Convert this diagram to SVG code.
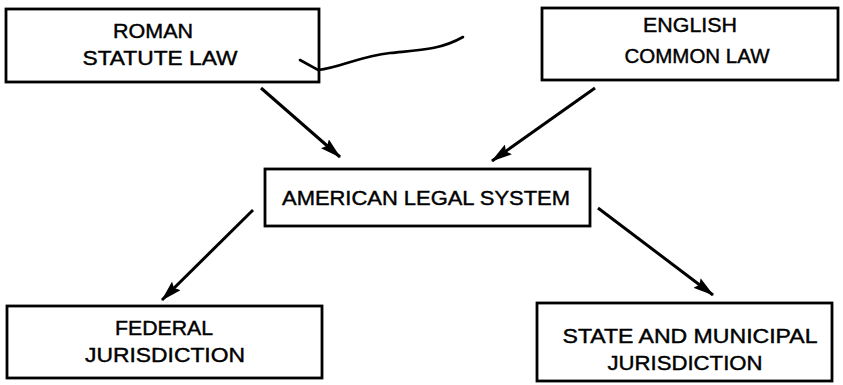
<svg xmlns="http://www.w3.org/2000/svg" width="843" height="385" viewBox="0 0 843 385">
<defs>
<style>
.box{fill:#fff;stroke:#000;stroke-width:2.8}
.t{font-family:"Liberation Sans",Arial,sans-serif;font-size:19.5px;fill:#000;stroke:#000;stroke-width:0.4;text-anchor:middle}
.conn{stroke:#000;stroke-width:3;fill:none}
.mark{stroke:#000;stroke-width:2.6;fill:none;stroke-linecap:round}
</style>
<marker id="ah" viewBox="0 0 21 12" refX="20" refY="6" markerWidth="21" markerHeight="12" markerUnits="userSpaceOnUse" orient="auto">
<path d="M0,0 L21,6 L0,12 L3,6 Z" fill="#000"/>
</marker>
</defs>
<rect width="843" height="385" fill="#fff"/>
<g id="roman">
<rect class="box" x="6" y="9" width="313" height="73"/>
<text class="t" x="153" y="38" textLength="80" lengthAdjust="spacingAndGlyphs">ROMAN</text>
<text class="t" x="160" y="65" textLength="155" lengthAdjust="spacingAndGlyphs">STATUTE LAW</text>
</g>
<g id="english">
<rect class="box" x="542" y="8" width="296" height="72"/>
<text class="t" x="690" y="32" textLength="94" lengthAdjust="spacingAndGlyphs">ENGLISH</text>
<text class="t" x="697" y="63" textLength="145" lengthAdjust="spacingAndGlyphs">COMMON LAW</text>
</g>
<g id="american">
<rect class="box" x="265" y="169" width="325" height="57"/>
<text class="t" x="426" y="205" textLength="288" lengthAdjust="spacingAndGlyphs">AMERICAN LEGAL SYSTEM</text>
</g>
<g id="federal">
<rect class="box" x="7" y="306" width="315" height="72"/>
<text class="t" x="164" y="335" textLength="98" lengthAdjust="spacingAndGlyphs">FEDERAL</text>
<text class="t" x="165" y="362" textLength="160" lengthAdjust="spacingAndGlyphs">JURISDICTION</text>
</g>
<g id="state">
<rect class="box" x="537" y="303" width="295" height="78"/>
<text class="t" x="690" y="343" textLength="255" lengthAdjust="spacingAndGlyphs">STATE AND MUNICIPAL</text>
<text class="t" x="685" y="370" textLength="155" lengthAdjust="spacingAndGlyphs">JURISDICTION</text>
</g>
<g id="connectors">
<line class="conn" x1="261" y1="88" x2="340" y2="157" marker-end="url(#ah)"/>
<line class="conn" x1="595" y1="88" x2="492" y2="161" marker-end="url(#ah)"/>
<line class="conn" x1="253" y1="210" x2="162" y2="300" marker-end="url(#ah)"/>
<line class="conn" x1="598" y1="208" x2="713" y2="295" marker-end="url(#ah)"/>
</g>
<path class="mark" d="M300,60 L318,70 C340,68 360,56 390,53 C420,50 440,50 463,37"/>
</svg>
